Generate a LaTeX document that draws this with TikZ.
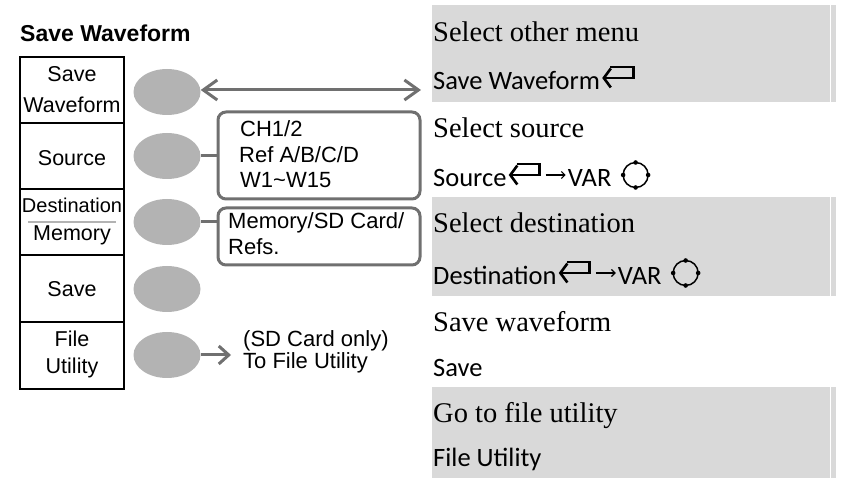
\documentclass[tikz,border=0pt]{standalone}
\usepackage{fontspec}
\usepackage{xcolor}
\usepackage{tikz}
\usetikzlibrary{arrows.meta,shapes.geometric}
\newfontfamily\menufont{Liberation Sans}
\newfontfamily\keyfont{Carlito}
\newfontfamily\helpfont{Liberation Serif}
\definecolor{bandgray}{HTML}{D9D9D9}
\definecolor{btngray}{HTML}{B3B3B3}
\definecolor{linegray}{HTML}{707070}

% enter symbol, #1 = base east of the key text
\newcommand{\enterkey}[1]{%
  \draw[enterk] ([shift={(10,-23)}]#1) -- ++(23,0) -- ++(0,11) -- ++(-31,0);}
% VAR knob, #1 = centre
\newcommand{\varknob}[1]{%
  \draw[line width=1.5pt] (#1) circle (12.5);
  \foreach \a in {0,90,180,270}
    \fill (#1) ++(\a:12.5) circle (2.3);}

\begin{document}
\begin{tikzpicture}[x=1pt,y=-1pt,
  menutxt/.style={anchor=base,inner sep=0pt,font=\menufont\fontsize{21.5}{24}\selectfont},
  opttxt/.style={anchor=base west,inner sep=0pt,font=\menufont\fontsize{22}{25}\selectfont},
  helptxt/.style={anchor=base west,inner sep=0pt,font=\helpfont\fontsize{28.5}{32}\selectfont},
  keytxt/.style={anchor=base west,inner sep=0pt,font=\keyfont\fontsize{26.5}{30}\selectfont},
  btn/.style={ellipse,fill=btngray,minimum width=67pt,minimum height=46pt,inner sep=0pt},
  optbox/.style={draw=linegray,line width=3pt,rounded corners=8pt,minimum width=202pt},
  conn/.style={draw=linegray,line width=3pt},
  enterk/.style={line width=2.6pt,-{Straight Barb[length=7pt,width=19pt]}},
  smallarr/.style={line width=1.2pt,-{Straight Barb[length=3.5pt,width=7pt]}}]
\useasboundingbox (0,0) rectangle (847,478);

% help panel
\foreach \t/\b in {5/102,197/296,387/478}
  \fill[bandgray] (432,\t) rectangle (836,\b);
\draw[white,line width=0.8pt] (830,5) -- (830,478);

\node[helptxt] (hlpMenu) at (433,42) {Select other menu};
\node[keytxt] (keyMenu) at (433,90) {Save Waveform};
\enterkey{keyMenu.base east}

\node[helptxt] (hlpSrc) at (433,138) {Select source};
\node[keytxt] (keySrc) at (433,187) {Source};
\enterkey{keySrc.base east}
\draw[smallarr] ([shift={(39,-12)}]keySrc.base east) -- ++(20,0);
\node[keytxt] (varSrc) at ([shift={(61,0)}]keySrc.base east) {VAR};
\varknob{[shift={(24,-12)}]varSrc.base east}

\node[helptxt] (hlpDst) at (433,233) {Select destination};
\node[keytxt] (keyDst) at (433,285) {Destination};
\enterkey{keyDst.base east}
\draw[smallarr] ([shift={(39,-12)}]keyDst.base east) -- ++(20,0);
\node[keytxt] (varDst) at ([shift={(61,0)}]keyDst.base east) {VAR};
\varknob{[shift={(24,-12)}]varDst.base east}

\node[helptxt] (hlpSave) at (433,332) {Save waveform};
\node[keytxt] (keySave) at (433,377) {Save};
\node[helptxt] (hlpFile) at (433,423) {Go to file utility};
\node[keytxt] (keyFile) at (433,467) {File Utility};

% menu
\node[anchor=base west,inner sep=0pt,font=\menufont\bfseries\fontsize{23}{27}\selectfont]
  (title) at (20,42) {Save Waveform};
\draw[line width=1.2pt] (20,57) rectangle (124,389);
\foreach \y in {123,189,255,322}
  \draw[line width=1.2pt] (20,\y) -- (124,\y);
\draw[btngray,line width=1.5pt] (28,222) -- (116,222);
\node[menutxt] (mSave) at (72,82) {Save};
\node[menutxt] (mWave) at (72,113) {Waveform};
\node[menutxt] (mSrc) at (72,166) {Source};
\node[menutxt,font=\menufont\fontsize{20}{24}\selectfont] (mDst) at (72,213) {Destination};
\node[menutxt] (mMem) at (72,241) {Memory};
\node[menutxt] (mSv) at (72,297) {Save};
\node[menutxt] (mFile) at (72,347) {File};
\node[menutxt] (mUtil) at (72,374) {Utility};

\foreach \y [count=\i] in {92,156,222,289,355}
  \node[btn] (btn\i) at (167,\y) {};

% option boxes
\node[optbox,minimum height=87pt] (srcBox) at (319,155.5) {};
\node[optbox,minimum height=57pt] (dstBox) at (319,236.5) {};
\node[opttxt] (oCh) at (240,137) {CH1/2};
\node[opttxt] (oRef) at (239,163) {Ref A/B/C/D};
\node[opttxt] (oW) at (240,188) {W1\textasciitilde W15};
\node[opttxt] (oMem) at (228,229) {Memory/SD Card/};
\node[opttxt] (oRefs) at (228,255) {Refs.};
\node[opttxt] (oSd) at (243,347) {(SD Card only)};
\node[opttxt] (oTo) at (243,369) {To File Utility};

\coordinate (menuEnd) at (421,90);
\coordinate (fileEnd) at (231,355);
\draw[conn,{Straight Barb[length=14pt,width=20pt]}-{Straight Barb[length=14pt,width=20pt]}]
  (btn1.east |- menuEnd) -- (menuEnd);
\draw[conn] (btn2.east) -- (btn2.east -| srcBox.west);
\draw[conn] (btn3.east) -- (btn3.east -| dstBox.west);
\draw[conn,-{Straight Barb[length=10pt,width=18pt]}] (btn5.east) -- (fileEnd);
\end{tikzpicture}
\end{document}
